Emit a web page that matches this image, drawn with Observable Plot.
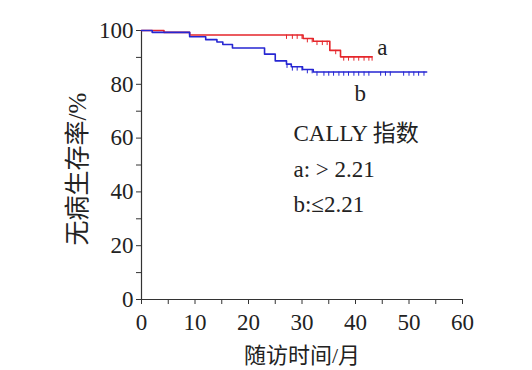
<!DOCTYPE html>
<html><head><meta charset="utf-8">
<script src="https://cdn.jsdelivr.net/npm/d3@7"></script>
<script src="https://cdn.jsdelivr.net/npm/@observablehq/plot@0.6"></script>
<style>body{margin:0;background:#fff}</style>
</head><body><div id="chart"></div>
<script>
// Group a: CALLY > 2.21 (red)
const aTime = [0, 4.2, 9.0, 30.2, 32.1, 35.2, 37.2, 43.1];
const aSurv = [100, 99.3, 98.3, 97.0, 96.0, 92.6, 90.2, 90.2];
const aCensor = [27.1, 28.2, 29.1, 30.0, 31.0, 31.9, 32.8, 33.8, 34.7, 36.3, 37.8, 38.7, 39.7, 40.6, 41.6, 42.5, 43.1];
// Group b: CALLY <= 2.21 (blue)
const bTime = [0, 2.0, 9.0, 12.0, 14.1, 15.2, 17.0, 23.0, 25.0, 27.1, 28.0, 30.1, 32.1, 53.3];
const bSurv = [100, 99.3, 97.7, 96.6, 95.7, 94.8, 93.5, 91.2, 88.7, 87.5, 86.5, 85.5, 84.6, 84.6];
const bCensor = [27.2, 28.2, 29.1, 30.0, 31.0, 31.9, 32.8, 34.1, 35.0, 35.9, 36.9, 37.8, 38.7, 39.7, 40.6, 41.6, 42.5, 44.7, 45.6, 46.5, 49.0, 50.0, 50.9, 51.8, 52.8];

const xTicks = [0, 5, 10, 15, 20, 25, 30, 35, 40, 45, 50, 55, 60];
const yTicks = [0, 10, 20, 30, 40, 50, 60, 70, 80, 90, 100];
const xLabel = "随访时间/月";
const yLabel = "无病生存率/%";
const legendLines = ["CALLY 指数", "a: > 2.21", "b:≤2.21"];

const RED = "#e5262b", BLUE = "#2626d2";
const serif = "'Liberation Serif', 'Noto Sans CJK SC', serif";

const curve = (T, S) => T.map((t, i) => ({t, s: S[i]}));
const survAt = (T, S, t) => { let v = S[0]; for (let i = 0; i < T.length; i++) if (T[i] <= t) v = S[i]; return v; };
const cens = (C, T, S) => C.map(t => ({t, s: survAt(T, S, t)}));

const aData = curve(aTime, aSurv), bData = curve(bTime, bSurv);
const aC = cens(aCensor, aTime, aSurv), bC = cens(bCensor, bTime, bSurv);

const chart = Plot.plot({
  width: 532, height: 370,
  marginTop: 30, marginBottom: 71, marginLeft: 141, marginRight: 70,
  x: {domain: [0, 60]},
  y: {domain: [0, 100]},
  style: {fontFamily: serif, fontSize: "23px", color: "#222", background: "#fff"},
  marks: [
    Plot.axisX({ticks: xTicks, tickFormat: d => d % 10 === 0 ? d : "", tickSize: 5, tickPadding: 9, label: null, fontSize: 23, stroke: "#333"}),
    Plot.axisY({ticks: yTicks, tickFormat: d => d % 20 === 0 ? d : "", tickSize: 5, tickPadding: 3, label: null, fontSize: 23, stroke: "#333"}),
    Plot.ruleX([0], {stroke: "#333", strokeWidth: 1.2}),
    Plot.ruleY([0], {stroke: "#333", strokeWidth: 1.2}),
    Plot.line(aData, {x: "t", y: "s", curve: "step-after", stroke: RED, strokeWidth: 1.6}),
    Plot.line(bData, {x: "t", y: "s", curve: "step-after", stroke: BLUE, strokeWidth: 1.6}),
    Plot.ruleX(aC, {x: "t", y1: "s", y2: d => d.s - 1.6, stroke: RED, strokeWidth: 1}),
    Plot.ruleX(bC, {x: "t", y1: "s", y2: d => d.s - 1.6, stroke: BLUE, strokeWidth: 1}),
    Plot.text(["a"], {x: 45.0, y: 93.7, text: d => d, fontSize: 23, fill: "#222", lineAnchor: "middle"}),
    Plot.text(["b"], {x: 40.9, y: 76.6, text: d => d, fontSize: 23, fill: "#222", lineAnchor: "middle"}),
    Plot.text([legendLines[0]], {x: 28.4, y: 59.1, text: d => d, textAnchor: "start", lineAnchor: "bottom", fontSize: 23, fill: "#222"}),
    Plot.text([legendLines[1]], {x: 28.4, y: 45.4, text: d => d, textAnchor: "start", lineAnchor: "bottom", fontSize: 23, fill: "#222"}),
    Plot.text([legendLines[2]], {x: 28.4, y: 32.7, text: d => d, textAnchor: "start", lineAnchor: "bottom", fontSize: 23, fill: "#222"}),
    Plot.text([xLabel], {frameAnchor: "bottom", dy: 56, text: d => d, textAnchor: "middle", lineAnchor: "middle", fontSize: 22, fill: "#222"}),
    Plot.text([yLabel], {frameAnchor: "left", dx: -64, dy: 4, rotate: -90, text: d => d, textAnchor: "middle", lineAnchor: "middle", fontSize: 25, fill: "#222"})
  ]
});
document.getElementById("chart").append(chart);
</script>
</body></html>
